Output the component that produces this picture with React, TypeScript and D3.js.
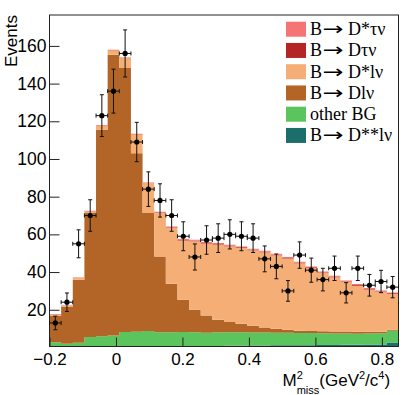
import React, { useEffect, useRef } from "react";
import * as d3 from "d3";

// bin low edges (bin width 0.035)
const binLow = [
  -0.2, -0.165, -0.13, -0.095, -0.06, -0.025, 0.01, 0.045, 0.08, 0.115,
  0.15, 0.185, 0.22, 0.255, 0.29, 0.325, 0.36, 0.395, 0.43, 0.465,
  0.5, 0.535, 0.57, 0.605, 0.64, 0.675, 0.71, 0.745, 0.78, 0.815,
];
const binWidth = 0.035;

// stacked MC components, bottom to top
const dssLnu = [
  0.3, 0.3, 0.3, 0.3, 0.4, 0.4, 0.5, 0.5, 0.5, 0.6,
  0.6, 0.7, 0.7, 0.8, 0.8, 0.9, 0.9, 1.0, 1.0, 1.1,
  1.1, 1.2, 1.2, 1.3, 1.3, 1.4, 1.4, 1.5, 1.5, 2.6,
];
const otherBG = [
  2.4, 1.7, 2.2, 5.2, 5.6, 6.0, 7.7, 7.8, 8.2, 7.4,
  7.4, 7.5, 7.3, 7.0, 7.2, 7.1, 7.1, 6.9, 6.9, 6.7,
  6.7, 6.5, 6.4, 6.2, 6.1, 6.0, 5.9, 5.9, 6.0, 6.3,
];
const dLnu = [
  14.1, 19.4, 33.4, 65.8, 109.5, 148.9, 140.1, 94.8, 62.6, 40.3,
  25.8, 17.1, 12.0, 9.2, 6.7, 5.5, 4.6, 3.6, 2.7, 2.1,
  1.6, 1.2, 1.1, 1.1, 1.1, 1.0, 1.0, 0.9, 0.8, 0.5,
];
const dsLnu = [
  0.6, 0.6, 0.9, 0.9, 2.2, 2.4, 5.3, 10.0, 15.9, 23.1,
  29.6, 31.4, 36.3, 38.1, 39.9, 40.2, 40.2, 40.1, 39.9, 39.0,
  37.8, 35.8, 33.5, 30.9, 28.7, 26.3, 24.5, 22.4, 21.1, 19.0,
];
const dTaunu = [
  0.1, 0.1, 0.1, 0.1, 0.1, 0.1, 0.1, 0.1, 0.1, 0.2,
  0.3, 0.3, 0.3, 0.3, 0.3, 0.3, 0.3, 0.3, 0.3, 0.3,
  0.3, 0.3, 0.3, 0.3, 0.3, 0.3, 0.3, 0.3, 0.3, 0.3,
];
const dsTaunu = [
  0.2, 0.2, 0.2, 0.2, 0.2, 0.2, 0.2, 0.2, 0.2, 0.4,
  0.5, 0.5, 0.5, 0.5, 0.5, 0.5, 0.5, 0.5, 0.5, 0.5,
  0.5, 0.5, 0.5, 0.5, 0.5, 0.5, 0.5, 0.5, 0.5, 0.5,
];

// data counts per bin
const dataCounts = [
  13, 24, 55, 70, 123, 136, 156, 109, 84, 78,
  70, 59, 48, 57, 58, 60, 59, 58, 47, 43,
  30, 49, 41, 36, 42, 29, 42, 33, 35, 32,
];

const xMajorTicks = [-0.2, 0, 0.2, 0.4, 0.6, 0.8];
const yMajorTicks = [20, 40, 60, 80, 100, 120, 140, 160];

// legend labels split as [before arrow, after arrow]; null = no arrow
const components = [
  { key: "dssLnu", label: ["B", " D**l\u03bd"], color: "#1b6e6a", values: dssLnu },
  { key: "otherBG", label: ["other BG", null], color: "#5cc45c", values: otherBG },
  { key: "dLnu", label: ["B", " Dl\u03bd"], color: "#b26526", values: dLnu },
  { key: "dsLnu", label: ["B", " D*l\u03bd"], color: "#f5ae75", values: dsLnu },
  { key: "dTaunu", label: ["B", " D\u03c4\u03bd"], color: "#b42626", values: dTaunu },
  { key: "dsTaunu", label: ["B", " D*\u03c4\u03bd"], color: "#f57474", values: dsTaunu },
];

const W = 415;
const H = 395;
const frame = { left: 49.5, right: 398.5, top: 15, bottom: 346.5 };
const sans = "'Liberation Sans', Arial, Helvetica, sans-serif";
const serif = "'Liberation Serif', 'Times New Roman', serif";

function Chart() {
  const ref = useRef<SVGSVGElement | null>(null);

  useEffect(() => {
    const svg = d3.select(ref.current);
    svg.selectAll("*").remove();

    const x = d3.scaleLinear().domain([-0.2, 0.85]).range([frame.left, frame.right]);
    const y = d3.scaleLinear().domain([0.5, 176.4]).range([frame.bottom, frame.top]);

    const table = binLow.map((lo, i) => {
      const row: any = { lo };
      components.forEach((c) => (row[c.key] = c.values[i]));
      return row;
    });
    // extra point closing the last bin for the step curve
    table.push({ ...table[table.length - 1], lo: binLow[binLow.length - 1] + binWidth });

    const stack = d3.stack<any>().keys(components.map((c) => c.key));
    const layers = stack(table);

    svg.append("defs").append("clipPath").attr("id", "frameClip")
      .append("rect")
      .attr("x", frame.left).attr("y", frame.top)
      .attr("width", frame.right - frame.left).attr("height", frame.bottom - frame.top);

    const area = d3.area<any>()
      .curve(d3.curveStepAfter)
      .x((d) => x(d.data.lo))
      .y0((d) => y(d[0]))
      .y1((d) => y(d[1]));

    svg.append("g").attr("clip-path", "url(#frameClip)")
      .selectAll("path")
      .data(layers)
      .enter().append("path")
      .attr("d", area as any)
      .attr("fill", (d, i) => components[i].color);

    // axes
    const xAxis = svg.append("g").attr("transform", `translate(0,${frame.bottom})`);
    xAxis.call(
      d3.axisBottom(x).tickValues(d3.range(-0.2, 0.86, 0.05)).tickSize(-4).tickFormat(() => "")
    );
    xAxis.call(
      d3.axisBottom(x).tickValues(xMajorTicks).tickSize(-9).tickPadding(6)
        .tickFormat((d) => d3.format("")(+(+d).toFixed(2)))
    );
    xAxis.selectAll(".domain").remove();
    xAxis.selectAll("text").style("font-family", sans).style("font-size", "17px").attr("fill", "#000");
    xAxis.selectAll("line").attr("stroke", "#222");

    const yAxis = svg.append("g").attr("transform", `translate(${frame.left},0)`);
    yAxis.call(d3.axisLeft(y).tickValues(d3.range(5, 176, 5)).tickSize(-5).tickFormat(() => ""));
    yAxis.call(d3.axisLeft(y).tickValues(yMajorTicks).tickSize(-10).tickPadding(3));
    yAxis.selectAll(".domain").remove();
    yAxis.selectAll("text").style("font-family", sans).style("font-size", "17.5px").attr("fill", "#000");
    yAxis.selectAll("line").attr("stroke", "#222");

    svg.append("rect")
      .attr("x", frame.left).attr("y", frame.top)
      .attr("width", frame.right - frame.left).attr("height", frame.bottom - frame.top)
      .attr("fill", "none").attr("stroke", "#222").attr("stroke-width", 1);

    // data points
    const pts = svg.append("g").attr("stroke", "#111").attr("stroke-width", 1);
    dataCounts.forEach((n, i) => {
      const cx = x(binLow[i] + binWidth / 2);
      const xl = x(binLow[i]);
      const xr = x(binLow[i] + binWidth);
      const err = Math.sqrt(n);
      const yt = y(n + err);
      const yb = y(n - err);
      const cy = y(n);
      pts.append("line").attr("x1", cx).attr("x2", cx).attr("y1", yt).attr("y2", yb);
      pts.append("line").attr("x1", cx - 2).attr("x2", cx + 2).attr("y1", yt).attr("y2", yt);
      pts.append("line").attr("x1", cx - 2).attr("x2", cx + 2).attr("y1", yb).attr("y2", yb);
      pts.append("line").attr("x1", xl).attr("x2", xr).attr("y1", cy).attr("y2", cy);
      pts.append("line").attr("x1", xl).attr("x2", xl).attr("y1", cy - 2).attr("y2", cy + 2);
      pts.append("line").attr("x1", xr).attr("x2", xr).attr("y1", cy - 2).attr("y2", cy + 2);
      pts.append("circle").attr("cx", cx).attr("cy", cy).attr("r", 2.6)
        .attr("fill", "#000").attr("stroke", "none");
    });

    // legend (top entry first)
    const legend = svg.append("g");
    const entries = components.slice().reverse();
    const rows = legend.selectAll("g").data(entries).enter().append("g")
      .attr("transform", (d, i) => `translate(286,${29.2 + i * 21.25})`);
    rows.append("rect")
      .attr("x", 0).attr("y", -7.5).attr("width", 20).attr("height", 15)
      .attr("fill", (d) => d.color);
    const lt = rows.append("text")
      .attr("x", 24).attr("y", 6)
      .style("font-family", serif).style("font-size", "18px");
    lt.append("tspan").text((d) => d.label[0]);
    lt.filter((d) => d.label[1] !== null).append("tspan")
      .style("font-family", "'DejaVu Sans', sans-serif")
      .attr("textLength", 21).attr("lengthAdjust", "spacingAndGlyphs")
      .attr("dx", 0.5)
      .text("\u2192");
    lt.filter((d) => d.label[1] !== null).append("tspan")
      .text((d) => d.label[1] as string);

    // axis titles
    svg.append("text")
      .attr("transform", "translate(17,15) rotate(-90)")
      .attr("text-anchor", "end")
      .style("font-family", sans).style("font-size", "17px")
      .text("Events");

    const xt = svg.append("text")
      .attr("x", 282.5).attr("y", 385.5)
      .style("font-family", sans).style("font-size", "17px");
    xt.append("tspan").text("M");
    xt.append("tspan").attr("dy", -7).style("font-size", "11px").text("2");
    xt.append("tspan").attr("dx", -6.1).attr("dy", 15).style("font-size", "11px").text("miss");
    xt.append("tspan").attr("dy", -8).text("(GeV");
    xt.append("tspan").attr("dy", -7).style("font-size", "11px").text("2");
    xt.append("tspan").attr("dy", 7).text("/c");
    xt.append("tspan").attr("dy", -7).style("font-size", "11px").text("4");
    xt.append("tspan").attr("dy", 7).text(")");
  }, []);

  return (
    <svg
      ref={ref}
      width={W}
      height={H}
      style={{ position: "absolute", left: 0, top: 0, background: "#fff" }}
    />
  );
}

export default function App() {
  return <Chart />;
}
